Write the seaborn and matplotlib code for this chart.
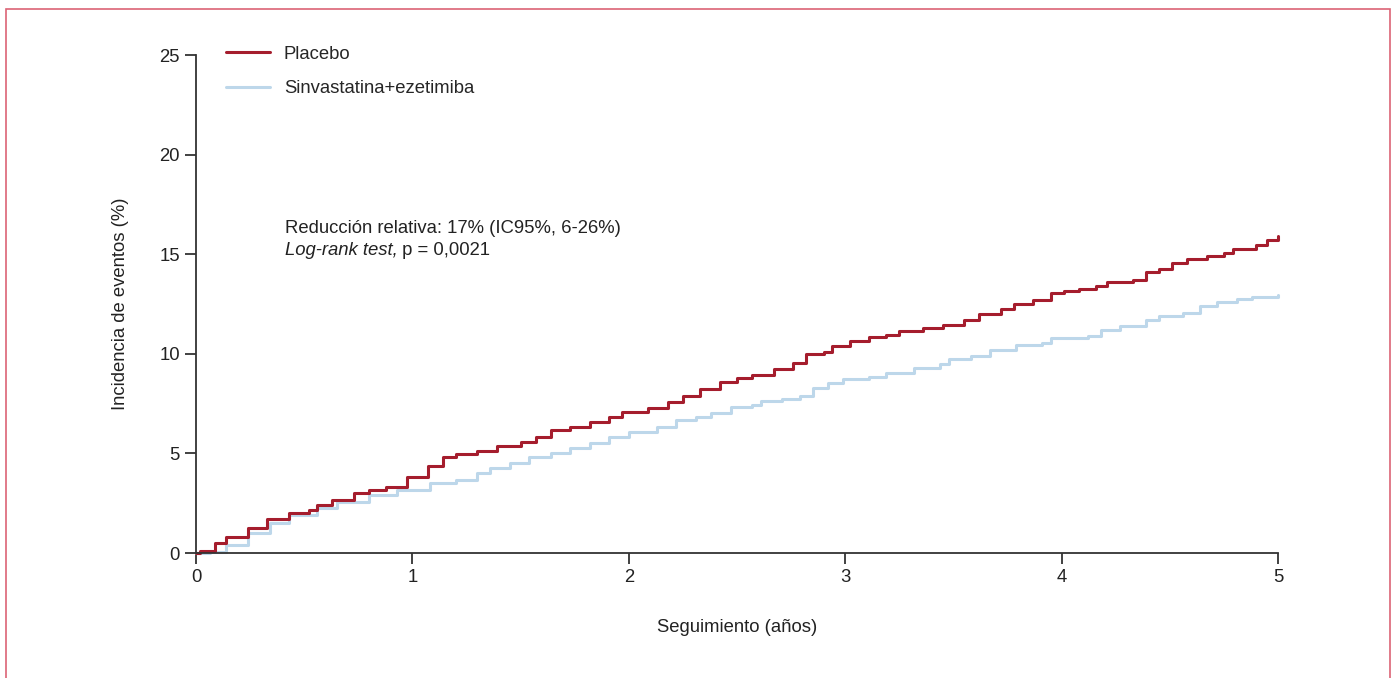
import matplotlib
matplotlib.use('Agg')
import matplotlib.pyplot as plt
from matplotlib.patches import Rectangle
import pandas as pd
import seaborn as sns

# Kaplan-Meier style cumulative incidence (%)
placebo_t = [0.0, 0.02, 0.09, 0.14, 0.24, 0.33, 0.43, 0.52, 0.56, 0.63, 0.73, 0.80, 0.88, 0.975,
             1.07, 1.14, 1.20, 1.30, 1.39, 1.50, 1.57, 1.64, 1.73, 1.82, 1.91, 1.97, 2.09,
             2.18, 2.25, 2.33, 2.42, 2.50, 2.57, 2.67, 2.76, 2.82, 2.90, 2.94, 3.02, 3.11,
             3.19, 3.25, 3.36, 3.45, 3.55, 3.62, 3.72, 3.78, 3.87, 3.95, 4.01, 4.08, 4.16,
             4.21, 4.33, 4.39, 4.45, 4.51, 4.58, 4.67, 4.75, 4.79, 4.90, 4.95, 5.0]
placebo_v = [0.0, 0.1, 0.5, 0.8, 1.25, 1.7, 2.0, 2.15, 2.4, 2.65, 3.0, 3.15, 3.3, 3.8,
             4.35, 4.8, 4.97, 5.12, 5.37, 5.57, 5.82, 6.17, 6.33, 6.58, 6.83, 7.08, 7.28,
             7.58, 7.88, 8.23, 8.58, 8.78, 8.93, 9.23, 9.54, 9.99, 10.1, 10.4, 10.64, 10.84,
             10.94, 11.14, 11.29, 11.45, 11.7, 12.0, 12.25, 12.5, 12.7, 13.05, 13.15, 13.25, 13.4,
             13.6, 13.7, 14.1, 14.25, 14.55, 14.75, 14.9, 15.05, 15.25, 15.45, 15.7, 15.9]

combo_t = [0.0, 0.065, 0.14, 0.24, 0.34, 0.43, 0.56, 0.65, 0.80, 0.93, 1.08, 1.20, 1.30,
           1.36, 1.45, 1.54, 1.64, 1.73, 1.82, 1.91, 2.0, 2.13, 2.22, 2.31, 2.38, 2.47,
           2.57, 2.61, 2.71, 2.79, 2.85, 2.92, 2.99, 3.11, 3.19, 3.32, 3.44, 3.48, 3.58,
           3.67, 3.79, 3.91, 3.95, 4.12, 4.18, 4.27, 4.39, 4.45, 4.56, 4.64, 4.72, 4.81,
           4.88, 5.0]
combo_v = [0.0, 0.05, 0.4, 1.0, 1.5, 1.9, 2.25, 2.55, 2.9, 3.15, 3.51, 3.67, 4.0,
           4.27, 4.52, 4.82, 5.02, 5.27, 5.52, 5.82, 6.07, 6.33, 6.68, 6.83, 7.03, 7.33,
           7.43, 7.63, 7.73, 7.88, 8.28, 8.53, 8.73, 8.84, 9.04, 9.29, 9.49, 9.74, 9.89,
           10.19, 10.44, 10.54, 10.79, 10.89, 11.2, 11.4, 11.7, 11.9, 12.05, 12.4, 12.6, 12.75,
           12.85, 12.95]

GROUPS = ['Placebo', 'Sinvastatina+ezetimiba']
COLORS = {'Placebo': '#a51d2d', 'Sinvastatina+ezetimiba': '#bdd7ea'}
FS = 13.3
TXT = '#222222'

df = pd.concat([
    pd.DataFrame({'t': placebo_t, 'v': placebo_v, 'grupo': GROUPS[0]}),
    pd.DataFrame({'t': combo_t, 'v': combo_v, 'grupo': GROUPS[1]}),
], ignore_index=True)

sns.set_style('white')
plt.rcParams['font.family'] = ['Liberation Sans', 'DejaVu Sans']

fig = plt.figure(figsize=(13.94, 6.78), dpi=100)
ax = fig.add_axes([196 / 1394, 1 - 553 / 678, 1082 / 1394, 498 / 678])

# draw blue first so the red curve sits on top
for g in GROUPS[::-1]:
    sns.lineplot(data=df[df.grupo == g], x='t', y='v', color=COLORS[g], lw=2.2,
                 drawstyle='steps-post', estimator=None, sort=False, ax=ax,
                 label=g, clip_on=False)

ax.set_xlim(0, 5)
ax.set_ylim(0, 25)
ax.set_xticks(range(0, 6))
ax.set_yticks(range(0, 26, 5))
for s in ['top', 'right']:
    ax.spines[s].set_visible(False)
for s in ['left', 'bottom']:
    ax.spines[s].set_color('#333333')
    ax.spines[s].set_linewidth(1.3)
ax.tick_params(axis='both', direction='out', length=8, width=1.3, color='#333333',
               labelsize=FS, labelcolor=TXT, left=True, bottom=True)
ax.set_xlabel('Seguimiento (años)', fontsize=FS, labelpad=24, color=TXT)
ax.set_ylabel('Incidencia de eventos (%)', fontsize=FS, labelpad=22, color=TXT)

h, l = ax.get_legend_handles_labels()
order = [l.index(g) for g in GROUPS]
ax.legend([h[i] for i in order], GROUPS, loc='upper left', bbox_to_anchor=(0.012, 1.052),
          frameon=False, fontsize=FS, handlelength=2.4, handletextpad=0.75, labelspacing=0.95)

ax.text(0.41, 16.3, 'Reducción relativa: 17% (IC95%, 6-26%)', fontsize=FS,
        color=TXT, va='center')
t1 = ax.text(0.41, 15.2, 'Log-rank test,', fontsize=FS, style='italic',
             color=TXT, va='center')
ax.annotate(' p = 0,0021', xy=(1, 0.5), xycoords=t1, fontsize=FS, color=TXT,
            va='center', ha='left')

# red frame around the figure (open at the bottom)
fig.add_artist(Rectangle((6 / 1394, -0.05), 1384 / 1394, 1.05 - 9 / 678,
                         transform=fig.transFigure, fill=False, ec='#dc6476', lw=1.2))

fig.savefig('out.png', dpi=100)
